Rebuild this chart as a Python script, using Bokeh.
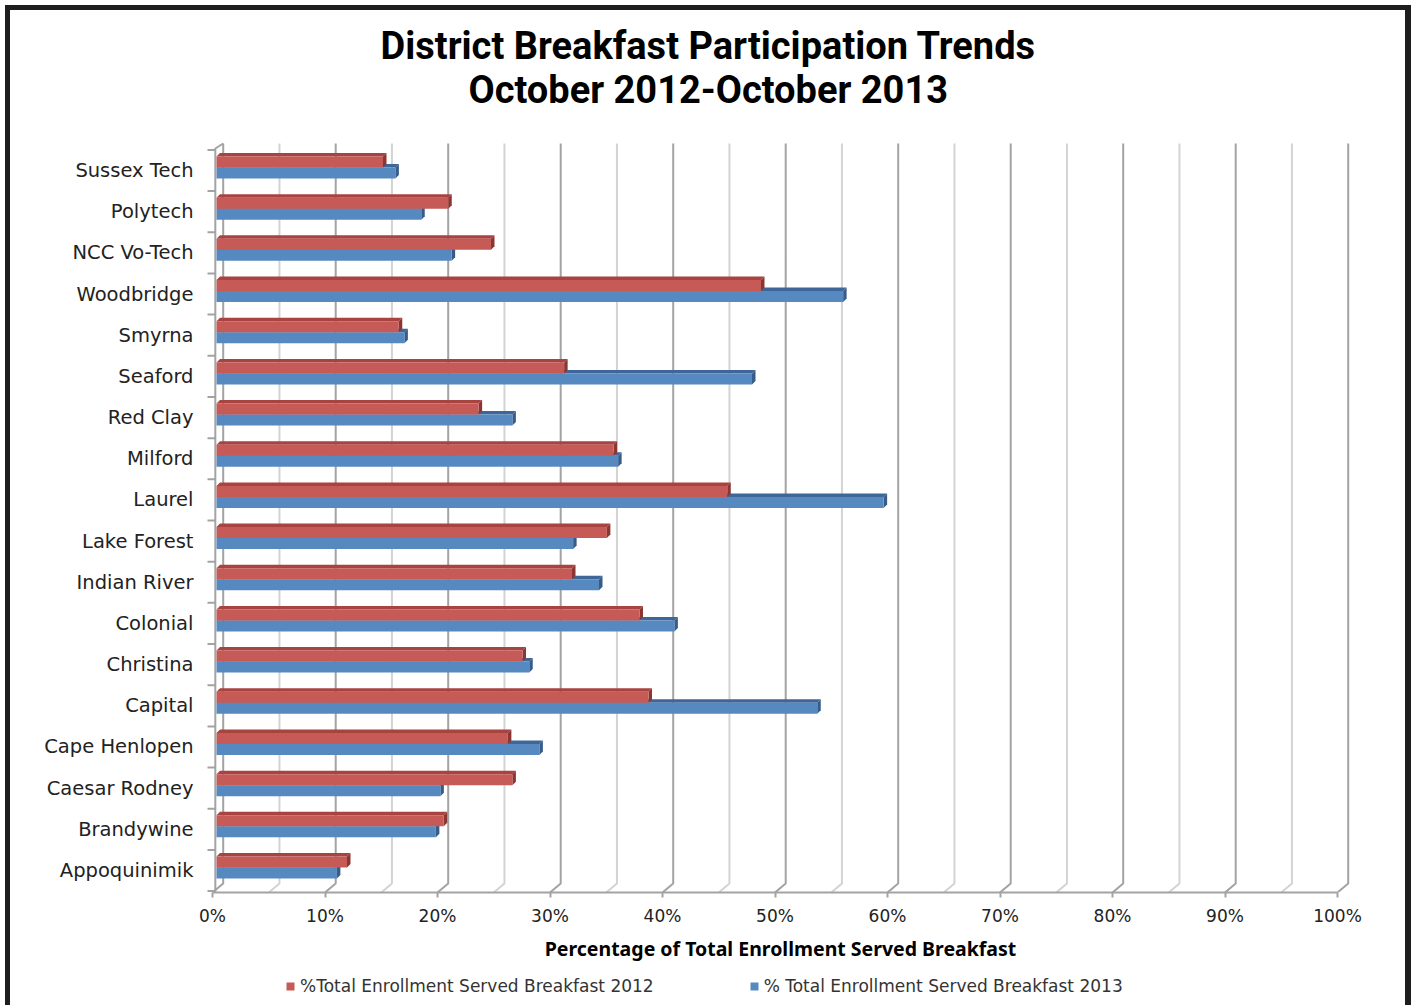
from bokeh.plotting import figure
from bokeh.layouts import column
from bokeh.models import ColumnDataSource, FixedTicker, Legend, LegendItem, Title, Range1d
from bokeh.transform import dodge
from bokeh.embed import file_html
from bokeh.resources import INLINE

# ---------------- data (bottom row first) ----------------
districts = ["Appoquinimik", "Brandywine", "Caesar Rodney", "Cape Henlopen", "Capital",
             "Christina", "Colonial", "Indian River", "Lake Forest", "Laurel", "Milford",
             "Red Clay", "Seaford", "Smyrna", "Woodbridge", "NCC Vo-Tech", "Polytech",
             "Sussex Tech"]
pct_2012 = [11.6, 20.2, 26.3, 25.9, 38.4, 27.2, 37.6, 31.6, 34.7, 45.4, 35.3,
            23.3, 30.9, 16.2, 48.4, 24.4, 20.6, 14.8]
pct_2013 = [10.7, 19.5, 19.9, 28.7, 53.4, 27.8, 40.7, 34.0, 31.7, 59.3, 35.7,
            26.3, 47.6, 16.7, 55.7, 20.9, 18.2, 15.9]
x_ticks = [0, 10, 20, 30, 40, 50, 60, 70, 80, 90, 100]
x_tick_labels = ["0%", "10%", "20%", "30%", "40%", "50%", "60%", "70%", "80%", "90%", "100%"]
grid_values = list(range(0, 101, 5))
series_names = ["%Total Enrollment Served Breakfast 2012",
                "% Total Enrollment Served Breakfast 2013"]
title_line1 = "District Breakfast Participation Trends"
title_line2 = "October 2012-October 2013"
x_title = "Percentage of Total Enrollment Served Breakfast"

# ---------------- geometry / style ----------------
PXX = 11.25      # px per percent
PXY = 41.176     # px per row
BAR_X0 = 4 / PXX
DDX = 3.5 / PXX
DDY = 3.5 / PXY
BAR_H = 11 / PXY
RED_C = (3 + 5.5) / PXY
BLUE_C = -(8 - 5.5) / PXY
BACK_DX = 10.7 / PXX
Y_BOT = -0.5343
Y_TOP = 17.850
BACK_TOP = 17.656
BACK_FLOOR = -0.316

RED, RED_TOP, RED_END = "#C55A56", "#A8433F", "#8C3633"
BLUE, BLUE_TOP, BLUE_END = "#5789C1", "#3F6698", "#385C8A"
GRID_MAJ, GRID_MIN = "#A3A3A3", "#D3D3D3"
FONT = "DejaVu Sans"

n = len(districts)
idx = list(range(n))
src = ColumnDataSource(dict(idx=idx, name=districts, v2012=pct_2012, v2013=pct_2013))

p = figure(frame_width=1160, frame_height=757, output_backend="svg", toolbar_location=None,
           x_range=Range1d(-12 / PXX, (1360 - 212) / PXX), y_range=Range1d(Y_BOT, Y_TOP),
           min_border_left=190, min_border_right=45, min_border_top=125, min_border_bottom=80,
           outline_line_color=None, background_fill_color="white", border_fill_color="white")
p.xgrid.visible = False
p.ygrid.visible = False

# ---------------- 3D walls and grid ----------------
maj_xs, maj_ys, min_xs, min_ys = [], [], [], []
for g in grid_values:
    xs = [g + BACK_DX, g + BACK_DX, g]
    ys = [BACK_TOP, BACK_FLOOR, Y_BOT]
    if g % 10 == 0:
        maj_xs.append(xs); maj_ys.append(ys)
    else:
        min_xs.append(xs); min_ys.append(ys)
p.multi_line(min_xs, min_ys, line_color=GRID_MIN, line_width=2)
p.multi_line(maj_xs, maj_ys, line_color=GRID_MAJ, line_width=2)

wall_x = 0.25
p.line([wall_x, wall_x, BACK_DX], [Y_BOT, BACK_TOP - 5 / PXY, BACK_TOP], line_color=GRID_MAJ, line_width=2)
tick_ys = [k - 0.5 for k in range(n + 1)]
p.multi_line([[-5 / PXX, wall_x] for _ in tick_ys], [[t, t] for t in tick_ys],
             line_color=GRID_MAJ, line_width=2)

# ---------------- bars ----------------
def faces(vals, c):
    tx, ty, ex, ey = [], [], [], []
    for i, v in enumerate(vals):
        x0, x1 = BAR_X0, v + BAR_X0
        b, t = i + c - BAR_H / 2, i + c + BAR_H / 2
        tx.append([x0, x1, x1 + DDX, x0 + DDX]); ty.append([t, t, t + DDY, t + DDY])
        ex.append([x1, x1, x1 + DDX, x1 + DDX]); ey.append([b, t, t + DDY, b + DDY])
    return tx, ty, ex, ey

btx, bty, bex, bey = faces(pct_2013, BLUE_C)
rtx, rty, rex, rey = faces(pct_2012, RED_C)

p.patches(btx, bty, fill_color=BLUE_TOP, line_color=None)
p.patches(bex, bey, fill_color=BLUE_END, line_color=None)
p.hbar(y=dodge("idx", BLUE_C), left=BAR_X0, right=dodge("v2013", BAR_X0),
       height=BAR_H, source=src, fill_color=BLUE, line_color=None)
p.patches(rtx, rty, fill_color=RED_TOP, line_color=None)
p.patches(rex, rey, fill_color=RED_END, line_color=None)
p.hbar(y=dodge("idx", RED_C), left=BAR_X0, right=dodge("v2012", BAR_X0),
       height=BAR_H, source=src, fill_color=RED, line_color=None)

# ---------------- axes ----------------
xa = p.xaxis[0]
xa.ticker = FixedTicker(ticks=x_ticks, minor_ticks=[])
xa.major_label_overrides = {t: l for t, l in zip(x_ticks, x_tick_labels)}
xa.bounds = (0, 100)
xa.axis_line_color = GRID_MAJ
xa.axis_line_width = 2
xa.major_tick_line_color = GRID_MAJ
xa.major_tick_line_width = 2
xa.major_tick_out = 5
xa.major_tick_in = 0
xa.minor_tick_line_color = None
xa.major_label_standoff = 8
xa.major_label_text_font = FONT
xa.major_label_text_font_size = "17px"
xa.major_label_text_color = "#222222"
xa.axis_label = x_title
xa.axis_label_text_font = "Noto Sans"
xa.axis_label_text_font_style = "bold"
xa.axis_label_text_font_size = "19.5px"
xa.axis_label_text_color = "#000000"
xa.axis_label_standoff = 6

ya = p.yaxis[0]
ya.ticker = FixedTicker(ticks=idx, minor_ticks=[])
ya.major_label_overrides = {i: d for i, d in zip(idx, districts)}
ya.axis_line_color = None
ya.major_tick_line_color = None
ya.minor_tick_line_color = None
ya.major_tick_out = 0
ya.major_tick_in = 0
ya.major_label_standoff = 7
ya.major_label_text_font = FONT
ya.major_label_text_font_size = "19.5px"
ya.major_label_text_color = "#222222"

# ---------------- title (two lines) ----------------
p.add_layout(Title(text=title_line2, align="left", offset=268, text_font="Roboto",
                   text_font_style="bold", text_font_size="38px", text_color="#000000",
                   standoff=47.5), "above")
p.add_layout(Title(text=title_line1, align="left", offset=180, text_font="Roboto",
                   text_font_style="bold", text_font_size="38px", text_color="#000000",
                   standoff=-52.5), "above")

# ---------------- legend strip (own small figure below the chart) ----------------
# same series drawn off-view here, so the legend keys carry the series colours
pl = figure(width=1395, height=33, output_backend="svg", toolbar_location=None,
            x_axis_type=None, y_axis_type=None, x_range=Range1d(0, 1), y_range=Range1d(100, 101),
            min_border=0, outline_line_color=None, background_fill_color="white",
            border_fill_color="white")
lg_red = pl.hbar(y="idx", left=0, right="v2012", height=0.5, source=src,
                 fill_color=RED, line_color=None)
lg_blue = pl.hbar(y="idx", left=0, right="v2013", height=0.5, source=src,
                  fill_color=BLUE, line_color=None)
legend = Legend(items=[LegendItem(label=series_names[0], renderers=[lg_red]),
                       LegendItem(label=series_names[1], renderers=[lg_blue])],
                orientation="horizontal", location=(85, 9),
                glyph_width=10, glyph_height=10, label_standoff=5, spacing=95,
                padding=0, margin=0, border_line_color=None, background_fill_alpha=0,
                label_text_font=FONT, label_text_font_size="17px", label_text_color="#333333")
pl.add_layout(legend, "center")

page = column(p, pl, spacing=0)
page.styles = {"margin-left": "5px", "margin-top": "5px",
               "border-left": "5px solid #1E1E1E", "border-top": "5px solid #1E1E1E",
               "border-right": "6px solid #1E1E1E"}

open("out.html", "w").write(file_html(page, INLINE))
